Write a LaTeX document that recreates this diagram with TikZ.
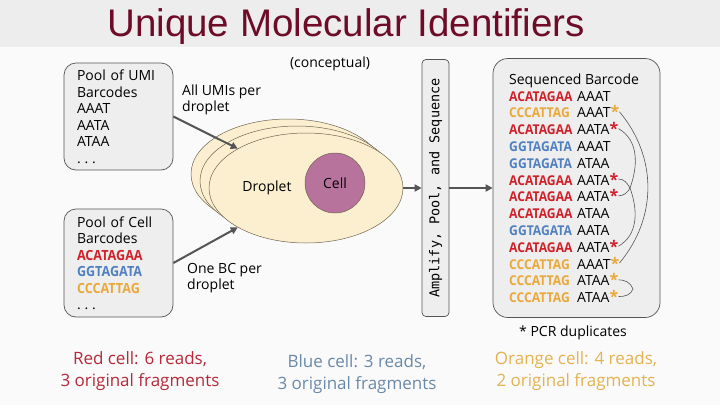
\documentclass[tikz,border=0pt]{standalone}
\usepackage{fontspec}
\setmainfont{Open Sans}
\newfontfamily\titlefont{Liberation Sans}
\newfontfamily\bcfont[FakeStretch=0.9]{Open Sans}
\newfontfamily\ampfont{DejaVu Sans Mono}
\usetikzlibrary{shapes.geometric,arrows.meta,positioning}
\definecolor{titlered}{RGB}{110,12,40}
\definecolor{band}{RGB}{237,237,237}
\definecolor{paper}{RGB}{250,250,250}
\definecolor{boxgray}{RGB}{238,238,238}
\definecolor{linegray}{RGB}{85,85,85}
\definecolor{dropfill}{RGB}{252,239,208}
\definecolor{dropline}{RGB}{110,100,80}
\definecolor{cellfill}{RGB}{184,115,157}
\definecolor{umired}{RGB}{208,32,42}
\definecolor{umiblue}{RGB}{80,128,192}
\definecolor{umiorange}{RGB}{234,168,56}
\definecolor{notered}{RGB}{182,40,58}
\definecolor{noteblue}{RGB}{106,137,168}
\definecolor{noteorange}{RGB}{228,178,80}

\begin{document}
\begin{tikzpicture}[x=1pt, y=-1pt,
    every node/.style={font=\fontsize{14pt}{16.5pt}\selectfont, inner sep=0pt},
    poolbox/.style={draw=linegray, line width=0.7pt, fill=boxgray, rounded corners=12pt,
        text width=83pt, inner xsep=13pt, minimum width=109pt, align=left},
    droplet/.style={ellipse, draw=dropline, line width=0.5pt, fill=dropfill,
        minimum width=194pt, minimum height=110pt},
    flow/.style={draw=linegray, line width=2pt, -{Triangle[length=7pt,width=7pt]}},
    dup/.style={draw=linegray, line width=0.6pt},
    note/.style={font=\fontsize{17pt}{22pt}\selectfont, align=center}]
    \useasboundingbox (0,0) rectangle (720,405);
    % Background and title
    \fill[paper] (0,0) rectangle (720,405);
    \fill[band] (0,0) rectangle (720,47);
    \node[font=\titlefont\fontsize{38.5pt}{40pt}\selectfont, text=titlered, anchor=base] (title) at (346,36) {Unique Molecular Identifiers};
    % Barcode pools
    \node[poolbox, minimum height=107pt] (umi) at (118.5,116.5) {Pool of UMI\\Barcodes\\AAAT\\AATA\\ATAA\\.\;.\;.};
    \node[poolbox, minimum height=108pt] (cellbc) at (118.5,263) {Pool of Cell\\Barcodes\\
        {\bcfont\bfseries\color{umired}ACATAGAA}\\{\bcfont\bfseries\color{umiblue}GGTAGATA}\\
        {\bcfont\bfseries\color{umiorange}CCCATTAG}\\.\;.\;.};
    % Droplets
    \node[droplet] (drop3) at (288,174) {};
    \node[droplet] (drop2) at (297,181) {};
    \node[droplet] (drop1) at (306,188) {};
    \node (droplabel) at (267,188) {Droplet};
    \node[circle, draw=dropline, line width=0.5pt, fill=cellfill, minimum size=60pt] (cell) at (335,183) {Cell};
    \node (concept) at (330,64) {(conceptual)};
    % Arrows into the droplet
    \draw[flow] (umi.east) -- (drop1.150);
    \draw[flow] (cellbc.east) -- (drop1.210);
    \node[anchor=west, align=left] (umilabel) at (182,100) {All UMIs per\\droplet};
    \node[anchor=west, align=left] (bclabel) at (187,278) {One BC per\\droplet};
    % Amplify, pool and sequence
    \node[draw=linegray, line width=0.7pt, fill=boxgray, rounded corners=4pt, rotate=90,
        minimum width=257pt, minimum height=27pt, font=\ampfont\fontsize{13.5pt}{14pt}\selectfont] (amp) at (435.5,188) {Amplify, Pool, and Sequence};
    \node[draw=linegray, line width=0.7pt, fill=boxgray, rounded corners=15pt,
        minimum width=167pt, minimum height=259pt] (seq) at (576.5,188) {};
    \draw[flow] (drop1) -- (amp);
    \draw[flow] (amp) -- (seq);
    % Sequenced reads
    \node[anchor=base west] (seqtitle) at (509,84) {Sequenced Barcode};
    \foreach \n/\c/\b/\u/\d in {1/umired/ACATAGAA/AAAT/{}, 2/umiorange/CCCATTAG/AAAT/*,
        3/umired/ACATAGAA/AATA/*, 4/umiblue/GGTAGATA/AAAT/{}, 5/umiblue/GGTAGATA/ATAA/{},
        6/umired/ACATAGAA/AATA/*, 7/umired/ACATAGAA/AATA/*, 8/umired/ACATAGAA/ATAA/{},
        9/umiblue/GGTAGATA/AATA/{}, 10/umired/ACATAGAA/AATA/*, 11/umiorange/CCCATTAG/AAAT/*,
        12/umiorange/CCCATTAG/ATAA/*, 13/umiorange/CCCATTAG/ATAA/*}
        \node[anchor=base west] (r\n) at (509,{101+16.8*(\n-1)})
            {\makebox[68pt][l]{\bcfont\bfseries\fontsize{13.5pt}{16pt}\selectfont\color{\c}\b}\u\textcolor{\c}{\bfseries\fontsize{16pt}{16pt}\selectfont\d}};
    % PCR duplicate links
    \coordinate (redtip) at (630,188);
    \coordinate (orangetip) at (633,289);
    \draw[dup] (r2.east) to[out=-50, in=50] (r11.east);
    \draw[dup] (r3.east) to[out=-30, in=70] (redtip);
    \draw[dup] (r6.east) to[out=0, in=120] (redtip);
    \draw[dup] (r7.east) to[out=0, in=-120] (redtip);
    \draw[dup] (r10.east) to[out=30, in=-70] (redtip);
    \draw[dup] (r12.east) to[out=0, in=110] (orangetip);
    \draw[dup] (r13.east) to[out=0, in=-110] (orangetip);
    \node (pcrnote) at (573,333) {* PCR duplicates};
    % Read counts
    \node[note, text=notered] (rednote) at (140,371) {Red cell: 6 reads,\\3 original fragments};
    \node[note, text=noteblue] (bluenote) at (357,374) {Blue cell: 3 reads,\\3 original fragments};
    \node[note, text=noteorange] (orangenote) at (576,371) {Orange cell: 4 reads,\\2 original fragments};
\end{tikzpicture}
\end{document}
